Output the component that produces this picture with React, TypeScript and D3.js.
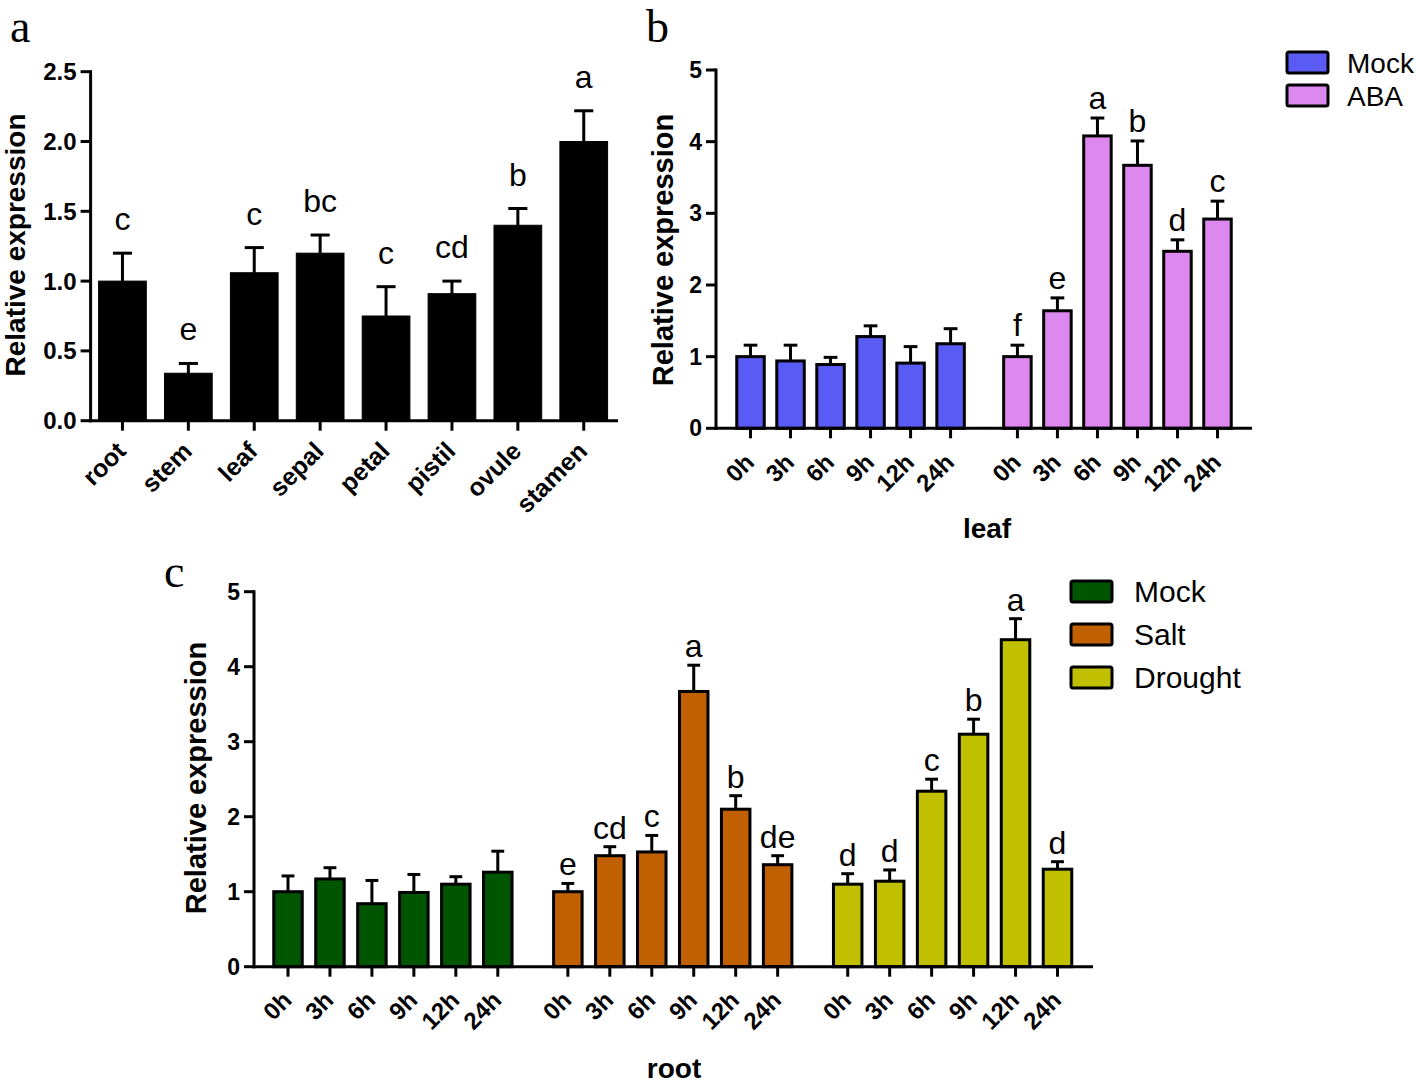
import React from "react";
import * as d3 from "d3";

// ---------- data ----------
const tissues = ["root", "stem", "leaf", "sepal", "petal", "pistil", "ovule", "stamen"];
const tissueMean = [1.0, 0.34, 1.06, 1.2, 0.75, 0.91, 1.4, 2.0];
const tissueErr = [0.2, 0.07, 0.18, 0.13, 0.21, 0.09, 0.12, 0.22];
const tissueLetters = ["c", "e", "c", "bc", "c", "cd", "b", "a"];
const tissueTicks = [0, 0.5, 1.0, 1.5, 2.0, 2.5];

const timePoints = ["0h", "3h", "6h", "9h", "12h", "24h"];

const leafMock = [1.0, 0.94, 0.89, 1.28, 0.91, 1.18];
const leafMockErr = [0.16, 0.22, 0.1, 0.15, 0.23, 0.21];
const leafABA = [1.0, 1.64, 4.08, 3.67, 2.47, 2.92];
const leafABAErr = [0.16, 0.18, 0.25, 0.34, 0.16, 0.25];
const abaLetters = ["f", "e", "a", "b", "d", "c"];

const rootMock = [1.0, 1.17, 0.84, 0.99, 1.1, 1.26];
const rootMockErr = [0.21, 0.15, 0.31, 0.24, 0.1, 0.28];
const rootSalt = [1.0, 1.48, 1.53, 3.67, 2.1, 1.36];
const rootSaltErr = [0.11, 0.12, 0.22, 0.35, 0.18, 0.12];
const saltLetters = ["e", "cd", "c", "a", "b", "de"];
const rootDrought = [1.1, 1.14, 2.34, 3.1, 4.36, 1.3];
const rootDroughtErr = [0.14, 0.15, 0.16, 0.2, 0.28, 0.1];
const droughtLetters = ["d", "d", "c", "b", "a", "d"];

const intTicks = [0, 1, 2, 3, 4, 5];

// ---------- style ----------
const SANS = "'Liberation Sans', Arial, sans-serif";
const SERIF = "'Liberation Serif', 'Times New Roman', serif";
const SW = 3;
const GROUP_GAP = 0.67;

type Bar = { x: number; w: number; v: number; e: number; fill: string; letter?: string };

function YAxis({ y, x, ticks, fmt, fs }: { y: d3.ScaleLinear<number, number>; x: number; ticks: number[]; fmt: (n: number) => string; fs: number }) {
  const [d0, d1] = y.domain();
  return (
    <g>
      <line x1={x} x2={x} y1={y(d0) + SW / 2} y2={y(d1) - SW / 2} stroke="#000" strokeWidth={SW} />
      {ticks.map((t) => (
        <g key={t}>
          <line x1={x - 10} x2={x} y1={y(t)} y2={y(t)} stroke="#000" strokeWidth={SW} />
          <text x={x - 14} y={y(t)} dy="0.35em" textAnchor="end" fontFamily={SANS} fontWeight="bold" fontSize={fs}>
            {fmt(t)}
          </text>
        </g>
      ))}
    </g>
  );
}

function Bars({ bars, y, capFrac, gap, letterFs, outline }: { bars: Bar[]; y: d3.ScaleLinear<number, number>; capFrac: number; gap: number; letterFs: number; outline: boolean }) {
  const y0 = y(0);
  return (
    <g>
      {bars.map((b, i) => {
        const cx = b.x;
        const top = y(b.v);
        const et = y(b.v + b.e);
        const cw = b.w * capFrac;
        return (
          <g key={i}>
            <line x1={cx} x2={cx} y1={top} y2={et} stroke="#000" strokeWidth={SW} />
            <line x1={cx - cw / 2} x2={cx + cw / 2} y1={et} y2={et} stroke="#000" strokeWidth={SW} />
            <rect
              x={cx - b.w / 2}
              y={top}
              width={b.w}
              height={y0 - top}
              fill={b.fill}
              stroke="#000"
              strokeWidth={outline ? SW : 1}
            />
            {b.letter ? (
              <text x={cx} y={et - gap} textAnchor="middle" fontFamily={SANS} fontSize={letterFs}>
                {b.letter}
              </text>
            ) : null}
          </g>
        );
      })}
    </g>
  );
}

function XAxis({ x1, x2, y0, ticks, offY, fs }: { x1: number; x2: number; y0: number; ticks: { x: number; label: string }[]; offY: number; fs: number }) {
  return (
    <g>
      <line x1={x1 - SW / 2} x2={x2} y1={y0} y2={y0} stroke="#000" strokeWidth={SW} />
      {ticks.map((t, i) => (
        <g key={i}>
          <line x1={t.x} x2={t.x} y1={y0} y2={y0 + 10} stroke="#000" strokeWidth={SW} />
          <text
            transform={`translate(${t.x + 5},${y0 + offY}) rotate(-45)`}
            textAnchor="end"
            fontFamily={SANS}
            fontWeight="bold"
            fontSize={fs}
          >
            {t.label}
          </text>
        </g>
      ))}
    </g>
  );
}

function YLabel({ x, y, fs }: { x: number; y: number; fs: number }) {
  return (
    <text transform={`translate(${x},${y}) rotate(-90)`} dy="0.35em" textAnchor="middle" fontFamily={SANS} fontWeight="bold" fontSize={fs}>
      Relative expression
    </text>
  );
}

function Legend({ x, y, items, step, fs, tx }: { x: number; y: number; items: { label: string; color: string }[]; step: number; fs: number; tx: number }) {
  return (
    <g>
      {items.map((it, i) => (
        <g key={it.label}>
          <rect x={x} y={y + i * step} width={41} height={21} rx={2} fill={it.color} stroke="#000" strokeWidth={SW} />
          <text x={x + tx} y={y + i * step + 21} fontFamily={SANS} fontSize={fs}>
            {it.label}
          </text>
        </g>
      ))}
    </g>
  );
}

function PanelA() {
  const y = d3.scaleLinear().domain([0, 2.5]).range([420.7, 71.7]);
  const x = d3.scaleBand<string>().domain(tissues).range([98.6, 607.6]).paddingInner(0.276).paddingOuter(0);
  const bars: Bar[] = tissues.map((t, i) => ({
    x: (x(t) as number) + x.bandwidth() / 2,
    w: x.bandwidth(),
    v: tissueMean[i],
    e: tissueErr[i],
    fill: "#000",
    letter: tissueLetters[i],
  }));
  return (
    <g>
      <text x={10} y={42} fontFamily={SERIF} fontSize={46}>a</text>
      <YLabel x={15} y={245} fs={28} />
      <Bars bars={bars} y={y} capFrac={0.4} gap={23} letterFs={32} outline={false} />
      <YAxis y={y} x={90.6} ticks={tissueTicks} fmt={d3.format(".1f")} fs={24} />
      <XAxis x1={90.6} x2={618} y0={y(0)} ticks={bars.map((b, i) => ({ x: b.x, label: tissues[i] }))} offY={32} fs={25} />
    </g>
  );
}

function groupBars(groups: { vals: number[]; errs: number[]; color: string; letters?: string[] }[], x: d3.ScaleLinear<number, number>, w: number): Bar[] {
  const out: Bar[] = [];
  groups.forEach((g, gi) => {
    g.vals.forEach((v, i) => {
      out.push({ x: x(gi * (timePoints.length + GROUP_GAP) + i), w, v, e: g.errs[i], fill: g.color, letter: g.letters ? g.letters[i] : undefined });
    });
  });
  return out;
}

function PanelB() {
  const y = d3.scaleLinear().domain([0, 5]).range([428.3, 70]);
  const last = (timePoints.length + GROUP_GAP) + timePoints.length - 1;
  const x = d3.scaleLinear().domain([0, last]).range([750.5, 1217.5]);
  const bars = groupBars(
    [
      { vals: leafMock, errs: leafMockErr, color: "#5A5AF5" },
      { vals: leafABA, errs: leafABAErr, color: "#DD88EE", letters: abaLetters },
    ],
    x,
    27.5
  );
  return (
    <g>
      <text x={646} y={42} fontFamily={SERIF} fontSize={46}>b</text>
      <YLabel x={663} y={250} fs={29} />
      <Bars bars={bars} y={y} capFrac={0.5} gap={9} letterFs={32} outline={true} />
      <YAxis y={y} x={716} ticks={intTicks} fmt={d3.format("d")} fs={23} />
      <XAxis x1={716} x2={1252} y0={y(0)} ticks={bars.map((b, i) => ({ x: b.x, label: timePoints[i % 6] }))} offY={35.5} fs={24} />
      <text x={987} y={538} textAnchor="middle" fontFamily={SANS} fontWeight="bold" fontSize={28}>leaf</text>
      <Legend x={1287} y={52} step={33} fs={28} tx={60} items={[{ label: "Mock", color: "#5A5AF5" }, { label: "ABA", color: "#DD88EE" }]} />
    </g>
  );
}

function PanelC() {
  const y = d3.scaleLinear().domain([0, 5]).range([966.7, 591.7]);
  const last = 2 * (timePoints.length + GROUP_GAP) + timePoints.length - 1;
  const x = d3.scaleLinear().domain([0, last]).range([288, 1057.5]);
  const bars = groupBars(
    [
      { vals: rootMock, errs: rootMockErr, color: "#005500" },
      { vals: rootSalt, errs: rootSaltErr, color: "#C06000", letters: saltLetters },
      { vals: rootDrought, errs: rootDroughtErr, color: "#C0C000", letters: droughtLetters },
    ],
    x,
    28.5
  );
  return (
    <g>
      <text x={164} y={587} fontFamily={SERIF} fontSize={46}>c</text>
      <YLabel x={196} y={778} fs={29} />
      <Bars bars={bars} y={y} capFrac={0.45} gap={8} letterFs={32} outline={true} />
      <YAxis y={y} x={254} ticks={intTicks} fmt={d3.format("d")} fs={23} />
      <XAxis x1={254} x2={1093} y0={y(0)} ticks={bars.map((b, i) => ({ x: b.x, label: timePoints[i % 6] }))} offY={35} fs={24} />
      <text x={674} y={1078} textAnchor="middle" fontFamily={SANS} fontWeight="bold" fontSize={28}>root</text>
      <Legend
        x={1071}
        y={581}
        step={43}
        fs={30}
        tx={63}
        items={[
          { label: "Mock", color: "#005500" },
          { label: "Salt", color: "#C06000" },
          { label: "Drought", color: "#C0C000" },
        ]}
      />
    </g>
  );
}

export default function App() {
  return (
    <svg
      width={1416}
      height={1084}
      viewBox="0 0 1416 1084"
      style={{ position: "absolute", left: 0, top: 0, background: "#fff" }}
    >
      <rect x={0} y={0} width={1416} height={1084} fill="#fff" />
      <PanelA />
      <PanelB />
      <PanelC />
    </svg>
  );
}
